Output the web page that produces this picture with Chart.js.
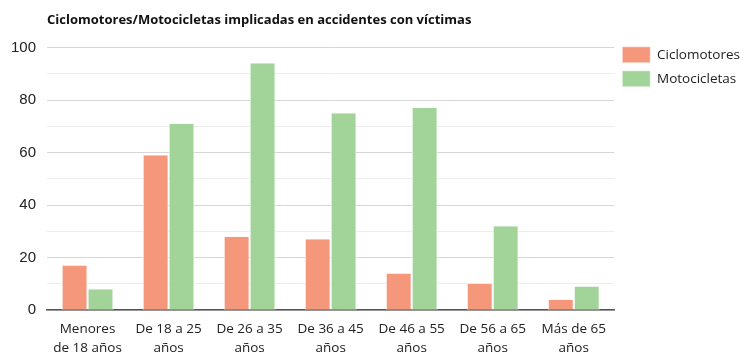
<!DOCTYPE html>
<html lang="es">
<head>
    <meta charset="UTF-8">
    <title>Ciclomotores/Motocicletas implicadas en accidentes con víctimas</title>
    <script src="https://cdn.jsdelivr.net/npm/chart.js"></script>
    <style>
        body {
            margin: 0;
            background: #fff;
        }
        #wrap {
            width: 750px;
            height: 360px;
        }
    </style>
</head>
<body>
    <div id="wrap"><canvas id="accidentChart"></canvas></div>

    <script>
        var categories = [
            ['Menores', 'de 18 años'],
            ['De 18 a 25', 'años'],
            ['De 26 a 35', 'años'],
            ['De 36 a 45', 'años'],
            ['De 46 a 55', 'años'],
            ['De 56 a 65', 'años'],
            ['Más de 65', 'años']
        ];
        var ciclomotores = [17, 59, 28, 27, 14, 10, 4];
        var motocicletas = [8, 71, 94, 75, 77, 32, 9];

        var ctx = document.getElementById('accidentChart').getContext('2d');
        var chart = new Chart(ctx, {
            type: 'bar',
            data: {
                labels: categories,
                datasets: [{
                    label: 'Ciclomotores',
                    data: ciclomotores,
                    backgroundColor: '#f4977a',
                    borderColor: '#ffffff',
                    borderWidth: { left: 1, right: 1, top: 0, bottom: 0 },
                    borderSkipped: false
                }, {
                    label: 'Motocicletas',
                    data: motocicletas,
                    backgroundColor: '#a2d49a',
                    borderColor: '#ffffff',
                    borderWidth: { left: 1, right: 1, top: 0, bottom: 0 },
                    borderSkipped: false
                }]
            },
            options: {
                responsive: true,
                maintainAspectRatio: false,
                animation: false,
                layout: {
                    padding: { left: 0, right: 0, top: 12, bottom: 0 }
                },
                datasets: {
                    bar: {
                        categoryPercentage: 0.64,
                        barPercentage: 1
                    }
                },
                scales: {
                    x: {
                        grid: { display: false },
                        border: { color: '#555', width: 1.5 },
                        ticks: {
                            padding: 2,
                            color: '#222',
                            font: { family: 'Open Sans', size: 13.5, lineHeight: 1.4 },
                            maxRotation: 0
                        }
                    },
                    y: {
                        min: 0,
                        max: 100,
                        border: { display: false },
                        grid: {
                            color: function (c) {
                                return c.tick.value % 20 === 0 ? '#d6d6d6' : '#ececec';
                            },
                            drawTicks: false
                        },
                        ticks: {
                            stepSize: 10,
                            padding: 11,
                            color: '#222',
                            font: { family: 'Liberation Sans', size: 15 },
                            callback: function (v) {
                                return v % 20 === 0 ? v : '';
                            }
                        }
                    }
                },
                plugins: {
                    title: {
                        display: true,
                        text: 'Ciclomotores/Motocicletas implicadas en accidentes con víctimas',
                        align: 'start',
                        fullSize: false,
                        color: '#111',
                        font: { family: 'Open Sans', size: 13, weight: 'bold' },
                        padding: { top: 0, bottom: 20 }
                    },
                    legend: {
                        position: 'right',
                        align: 'start',
                        title: {
                            display: true,
                            text: ' ',
                            font: { size: 14 },
                            padding: { top: 0, bottom: 10 }
                        },
                        labels: {
                            boxWidth: 28,
                            boxHeight: 16,
                            color: '#222',
                            padding: 8,
                            font: { family: 'Open Sans', size: 13.5 }
                        }
                    },
                    tooltip: { enabled: false }
                }
            }
        });
    </script>
</body>
</html>
